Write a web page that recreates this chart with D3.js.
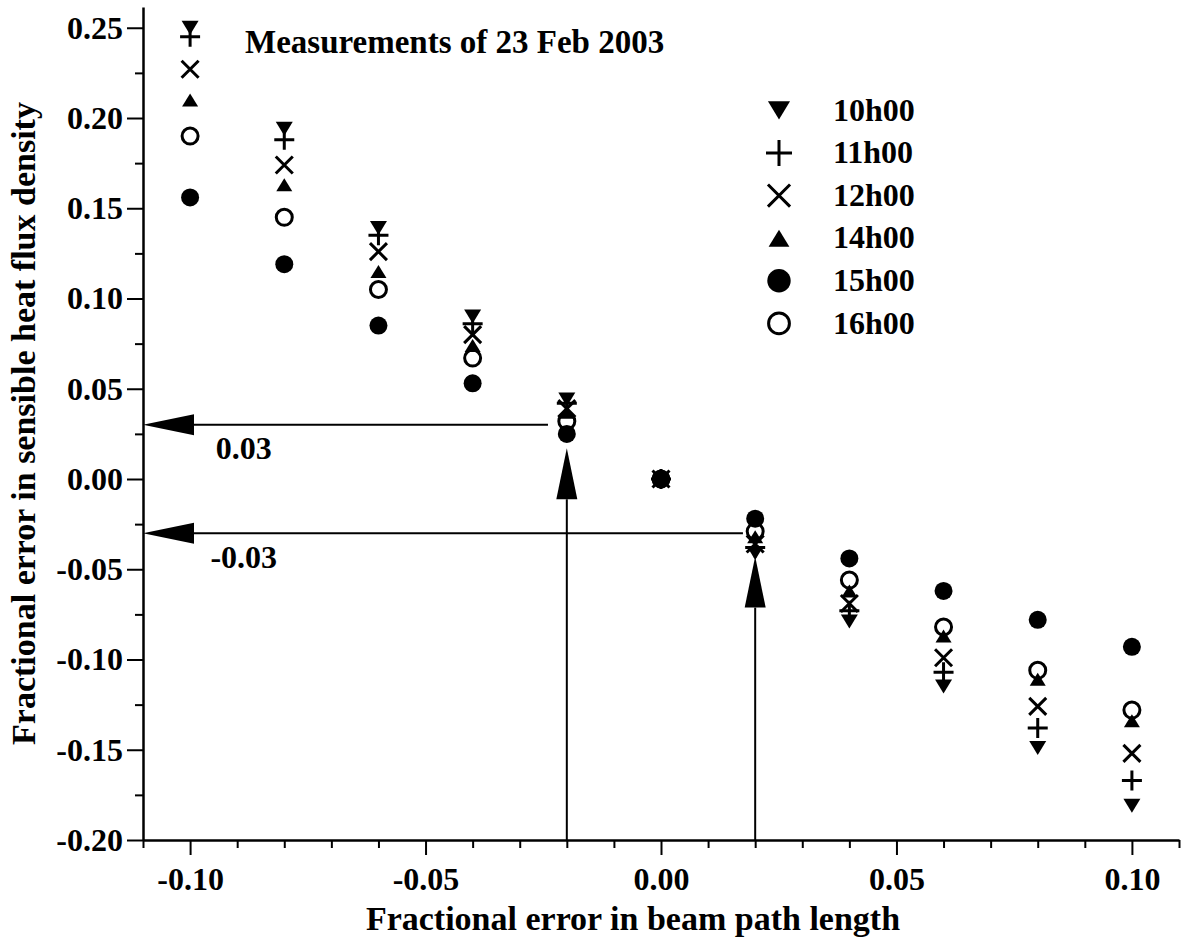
<!DOCTYPE html>
<html lang="en">
  <head>
    <meta charset="UTF-8" />
    <title>Fractional error in sensible heat flux density</title>
    <style>
      body {
        margin: 0;
        background: #fff;
      }
      svg text {
        font-family: 'Liberation Serif', 'Times New Roman', serif;
        font-weight: bold;
        fill: #000;
      }
      .axis path,
      .axis line {
        stroke: #000;
      }
      .axis path {
        stroke-width: 2.5px;
      }
      .axis line {
        stroke-width: 2px;
      }
      .arrow line {
        stroke: #000;
        stroke-width: 2px;
      }
    </style>
  </head>
  <body>
    <svg width="1184" height="942"></svg>
    <script src="https://cdn.jsdelivr.net/npm/d3@7"></script>
    <script>
      // fractional error in beam path length
      const pathErrors = [-0.10, -0.08, -0.06, -0.04, -0.02, 0.0, 0.02, 0.04, 0.06, 0.08, 0.10];

      const seriesNames = ['10h00', '11h00', '12h00', '14h00', '15h00', '16h00'];

      // fractional error in sensible heat flux density, one list per hour
      const h10 = [0.250, 0.194, 0.139, 0.090, 0.044, 0, -0.041, -0.079, -0.115, -0.149, -0.181];
      const h11 = [0.245, 0.188, 0.135, 0.086, 0.042, 0, -0.038, -0.073, -0.107, -0.138, -0.167];
      const h12 = [0.227, 0.174, 0.126, 0.080, 0.039, 0, -0.036, -0.069, -0.099, -0.126, -0.152];
      const h14 = [0.210, 0.163, 0.115, 0.074, 0.037, 0, -0.032, -0.062, -0.087, -0.111, -0.134];
      const h15 = [0.156, 0.119, 0.085, 0.053, 0.025, 0, -0.022, -0.044, -0.062, -0.078, -0.093];
      const h16 = [0.190, 0.145, 0.105, 0.067, 0.032, 0, -0.029, -0.056, -0.082, -0.106, -0.128];

      const xMajorTicks = [-0.10, -0.05, 0.0, 0.05, 0.10];
      const xMinorTicks = [-0.11, -0.09, -0.08, -0.07, -0.06, -0.04, -0.03, -0.02, -0.01,
        0.01, 0.02, 0.03, 0.04, 0.06, 0.07, 0.08, 0.09, 0.11];
      const yMajorTicks = [0.25, 0.20, 0.15, 0.10, 0.05, 0.0, -0.05, -0.10, -0.15, -0.20];
      const yMinorTicks = [0.225, 0.175, 0.125, 0.075, 0.025, -0.025, -0.075, -0.125, -0.175];

      // annotation arrows: [x1, y1] -> [x2, y2] (arrow head at the second point)
      const arrowStarts = [[-0.024, 0.03], [0.0174, -0.03], [-0.02, -0.20], [0.02, -0.20]];
      const arrowEnds = [[-0.11, 0.03], [-0.11, -0.03], [-0.02, 0.017], [0.02, -0.043]];
      const arrowLabels = ['0.03', '-0.03', '', ''];

      const title = 'Measurements of 23 Feb 2003';

      var svg = d3.select('svg');

      var x = d3.scaleLinear().domain([-0.11, 0.11]).range([143, 1179]);
      var y = d3.scaleLinear().domain([-0.20, 0.2615]).range([840, 7]);

      var fmt = (d) => d.toFixed(2);

      // x axis
      svg
        .append('g')
        .attr('class', 'axis')
        .attr('transform', 'translate(0,' + y(-0.2) + ')')
        .call(d3.axisBottom(x).tickValues(xMinorTicks).tickSize(8).tickSizeOuter(0).tickFormat(''));

      var xa = svg
        .append('g')
        .attr('class', 'axis')
        .attr('transform', 'translate(0,' + y(-0.2) + ')')
        .call(d3.axisBottom(x).tickValues(xMajorTicks).tickSize(15).tickSizeOuter(0).tickFormat(fmt));
      xa.select('.domain').remove();
      xa.selectAll('text')
        .attr('y', 50)
        .attr('dy', 0)
        .style('font-size', '32px')
        .style('font-family', null);

      // y axis
      svg
        .append('g')
        .attr('class', 'axis')
        .attr('transform', 'translate(' + x(-0.11) + ',0)')
        .call(d3.axisLeft(y).tickValues(yMinorTicks).tickSize(8).tickSizeOuter(0).tickFormat(''));

      var ya = svg
        .append('g')
        .attr('class', 'axis')
        .attr('transform', 'translate(' + x(-0.11) + ',0)')
        .call(d3.axisLeft(y).tickValues(yMajorTicks).tickSize(16).tickSizeOuter(0).tickFormat(fmt));
      ya.select('.domain').remove();
      ya.selectAll('text')
        .attr('x', -20)
        .attr('dy', '0.32em')
        .style('font-size', '32px')
        .style('font-family', null);

      // axis titles
      svg
        .append('text')
        .attr('x', 633)
        .attr('y', 930)
        .attr('text-anchor', 'middle')
        .style('font-size', '34px')
        .text('Fractional error in beam path length');

      svg
        .append('text')
        .attr('transform', 'translate(35,' + (y(-0.2) + y(0.2615)) / 2 + ') rotate(-90)')
        .attr('text-anchor', 'middle')
        .style('font-size', '34px')
        .text('Fractional error in sensible heat flux density');

      svg
        .append('text')
        .attr('x', 245)
        .attr('y', 53)
        .style('font-size', '33px')
        .text(title);

      // arrows
      var arrows = svg
        .append('g')
        .attr('class', 'arrow')
        .selectAll('g')
        .data(arrowStarts.map((s, i) => ({ s: s, e: arrowEnds[i], label: arrowLabels[i] })))
        .enter()
        .append('g');

      var headLen = 51,
        headHalf = 10.5;

      arrows.each(function (d) {
        var g = d3.select(this);
        var x1 = x(d.s[0]),
          y1 = y(d.s[1]),
          x2 = x(d.e[0]),
          y2 = y(d.e[1]);
        var ang = Math.atan2(y2 - y1, x2 - x1);
        var bx = x2 - headLen * Math.cos(ang),
          by = y2 - headLen * Math.sin(ang);
        var px = -Math.sin(ang) * headHalf,
          py = Math.cos(ang) * headHalf;
        g.append('line').attr('x1', x1).attr('y1', y1).attr('x2', bx).attr('y2', by);
        g.append('path')
          .attr('d', 'M' + x2 + ',' + y2 + 'L' + (bx + px) + ',' + (by + py) + 'L' + (bx - px) + ',' + (by - py) + 'Z')
          .attr('fill', '#000');
        if (d.label) {
          g.append('text')
            .attr('x', x(-0.0886))
            .attr('y', y1 + 34.5)
            .attr('text-anchor', 'middle')
            .style('font-size', '32px')
            .text(d.label);
        }
      });

      // marker shapes, s = scale
      function downTri(s) {
        return 'M' + -8.5 * s + ',' + -7 * s + 'L' + 8.5 * s + ',' + -7 * s + 'L0,' + 7 * s + 'Z';
      }
      function upTri(s) {
        return 'M' + -8 * s + ',' + 6.5 * s + 'L' + 8 * s + ',' + 6.5 * s + 'L0,' + -6.5 * s + 'Z';
      }
      function plus(s) {
        var a = 10 * s;
        return 'M' + -a + ',0L' + a + ',0M0,' + -a + 'L0,' + a;
      }
      function cross(s) {
        var a = 8.5 * s;
        return 'M' + -a + ',' + -a + 'L' + a + ',' + a + 'M' + -a + ',' + a + 'L' + a + ',' + -a;
      }
      function circle(r) {
        return 'M' + -r + ',0A' + r + ',' + r + ' 0 1,0 ' + r + ',0A' + r + ',' + r + ' 0 1,0 ' + -r + ',0Z';
      }

      var markers = [
        { path: downTri, fill: '#000', stroke: 'none' },
        { path: plus, fill: 'none', stroke: '#000' },
        { path: cross, fill: 'none', stroke: '#000' },
        { path: upTri, fill: '#000', stroke: 'none' },
        { path: (s) => circle(9 * s), fill: '#000', stroke: 'none' },
        { path: (s) => circle(8 * s), fill: 'none', stroke: '#000' },
      ];

      var allSeries = [h10, h11, h12, h14, h15, h16];

      allSeries.forEach(function (vals, i) {
        var m = markers[i];
        svg
          .append('g')
          .selectAll('path')
          .data(vals.map((v, j) => [pathErrors[j], v]))
          .enter()
          .append('path')
          .attr('transform', (d) => 'translate(' + x(d[0]) + ',' + y(d[1]) + ')')
          .attr('d', m.path(1))
          .attr('fill', m.fill)
          .attr('stroke', m.stroke)
          .attr('stroke-width', 3);
      });

      // legend
      var legend = svg
        .append('g')
        .selectAll('g')
        .data(seriesNames)
        .enter()
        .append('g')
        .attr('transform', (d, i) => 'translate(779,' + (110.4 + i * 42.6) + ')');

      legend
        .append('path')
        .attr('d', (d, i) => markers[i].path(1.3))
        .attr('fill', (d, i) => markers[i].fill)
        .attr('stroke', (d, i) => markers[i].stroke)
        .attr('stroke-width', 3);

      legend
        .append('text')
        .attr('x', 54)
        .attr('dy', '0.32em')
        .style('font-size', '32px')
        .text((d) => d);
    </script>
  </body>
</html>
